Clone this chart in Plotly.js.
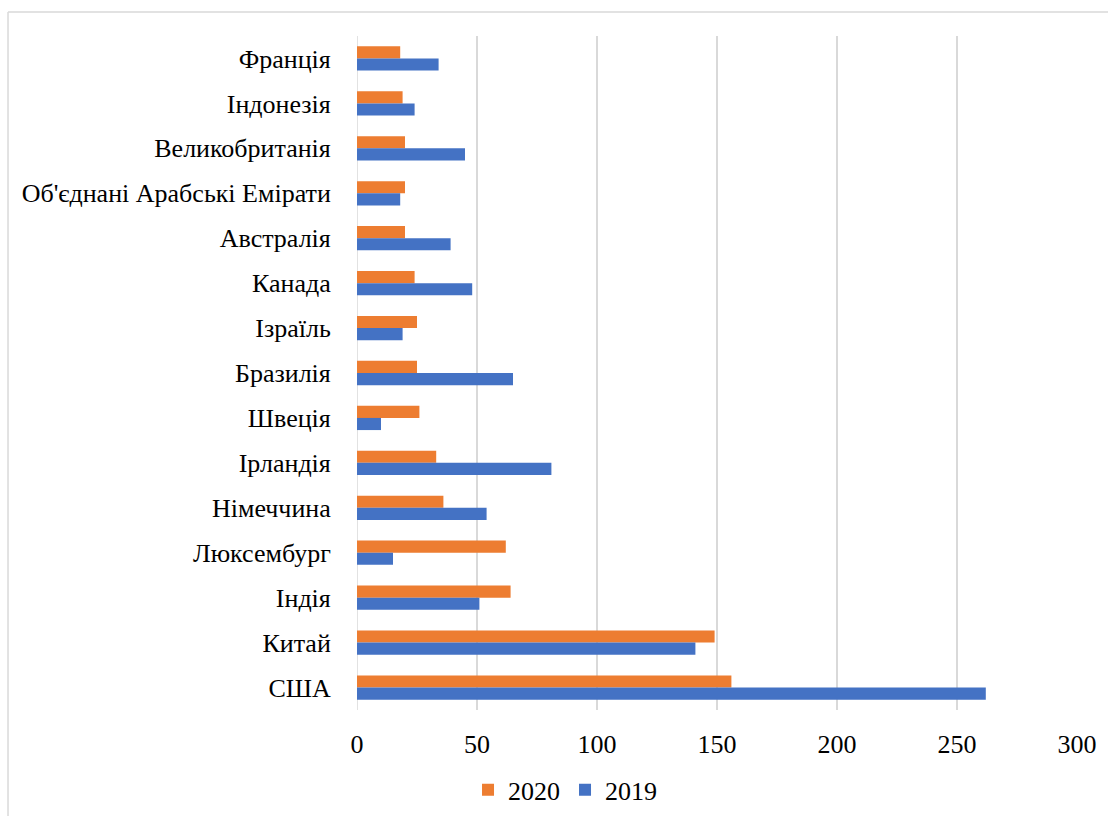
<!DOCTYPE html>
<html>
<head>
<meta charset="utf-8">
<script src="https://cdn.plot.ly/plotly-3.0.1.min.js"></script>
<style>
html,body{margin:0;padding:0;background:#fff;}
#chart{width:1108px;height:816px;}
</style>
</head>
<body>
<div id="chart"></div>
<script>
const countries = ["Франція","Індонезія","Великобританія","Об'єднані Арабські Емірати","Австралія","Канада","Ізраїль","Бразилія","Швеція","Ірландія","Німеччина","Люксембург","Індія","Китай","США"];
const values2020 = [18,19,20,20,20,24,25,25,26,33,36,62,64,149,156];
const values2019 = [34,24,45,18,39,48,19,65,10,81,54,15,51,141,262];
const xTicks = [0,50,100,150,200,250,300];

const font = {family: "Liberation Serif, Times New Roman, serif", color: "#000"};

const traces = [
  {type: "bar", orientation: "h", name: "2020", y: countries, x: values2020,
   marker: {color: "#ED7D31"}, hoverinfo: "x+y"},
  {type: "bar", orientation: "h", name: "2019", y: countries, x: values2019,
   marker: {color: "#4472C4"}, hoverinfo: "x+y"}
];

const layout = {
  width: 1108, height: 816,
  margin: {l: 357, r: 31, t: 36, b: 106, autoexpand: false},
  paper_bgcolor: "#fff", plot_bgcolor: "#fff",
  barmode: "group", bargap: 0.46, bargroupgap: 0,
  font: Object.assign({size: 26}, font),
  showlegend: true,
  legend: {orientation: "h", xref: "container", yref: "container",
           x: 0.4224, xanchor: "left", y: 0.032, yanchor: "middle",
           font: Object.assign({size: 26}, font), traceorder: "normal", itemwidth: 30},
  xaxis: {range: [0, 300], tickvals: xTicks, ticktext: xTicks.map(String),
          showgrid: true, gridcolor: "#d9d9d9", gridwidth: 1.5,
          zeroline: false, showline: false, automargin: false,
          ticks: "outside", ticklen: 11, tickcolor: "rgba(0,0,0,0)",
          tickfont: Object.assign({size: 26}, font), fixedrange: true},
  yaxis: {type: "category", categoryorder: "array", categoryarray: countries,
          autorange: "reversed", showgrid: false, zeroline: false, showline: false, automargin: false,
          ticks: "outside", ticklen: 20, tickcolor: "rgba(0,0,0,0)",
          tickfont: Object.assign({size: 26}, font), fixedrange: true},
  shapes: [
    {type: "line", xref: "paper", yref: "paper", x0: -0.4847, x1: 1.1, y0: 1.0356, y1: 1.0356,
     line: {color: "#d9d9d9", width: 1.5}},
    {type: "line", xref: "paper", yref: "paper", x0: -0.4847, x1: -0.4847, y0: 1.0356, y1: -0.2,
     line: {color: "#d9d9d9", width: 1.5}},
    {type: "line", xref: "x", yref: "paper", x0: 0, x1: 0, y0: 0, y1: 1,
     line: {color: "#d9d9d9", width: 1.5}, layer: "below"}
  ]
};

Plotly.newPlot("chart", traces, layout, {displayModeBar: false, staticPlot: true});
</script>
</body>
</html>
